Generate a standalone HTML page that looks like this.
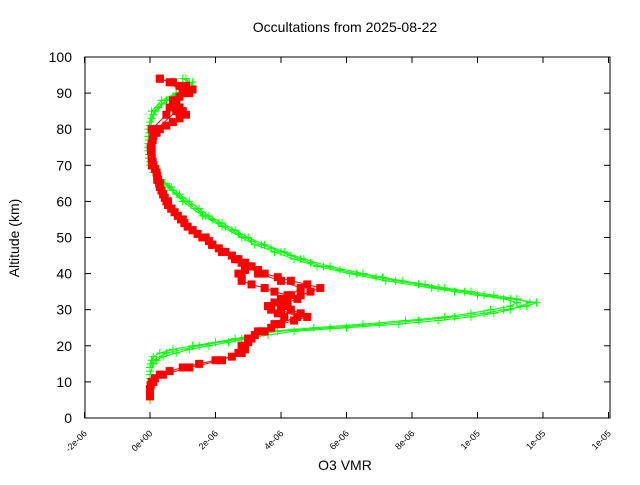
<!DOCTYPE html>
<html><head><meta charset="utf-8"><style>
body{margin:0;background:#fff;font-family:"Liberation Sans",sans-serif}
</style></head><body>
<svg id="c" width="640" height="480" xmlns="http://www.w3.org/2000/svg" font-family="Liberation Sans, sans-serif">
<rect width="640" height="480" fill="#fff"/>
<text x="345" y="32" text-anchor="middle" font-size="14">Occultations from 2025-08-22</text>
<text transform="translate(19,238) rotate(-90)" text-anchor="middle" font-size="14">Altitude (km)</text>
<text x="345" y="470" text-anchor="middle" font-size="14">O3 VMR</text>
<g id="axes"></g><g id="series"></g>
<rect x="85" y="57" width="525" height="361" fill="none" stroke="#000"/>
</svg>
<script>
const xTicks=[-2,0,2,4,6,8,10,12,14];
const xTickLabels=["-2e-06","0e+00","2e-06","4e-06","6e-06","8e-06","1e-05","1e-05","1e-05"];
const yTicks=[0,10,20,30,40,50,60,70,80,90,100];
const g1Alt=[5,6,7,8,9,10,11,12,13,14,15,16,17,18,19,20,21,22,23,24,25,26,27,28,29,30,31,32,33,34,35,36,37,38,39,40,41,42,43,44,45,46,47,48,49,50,51,52,53,54,55,56,57,58,59,60,61,62,63,64,65,66,67,68,69,70,71,72,73,74,75,76,77,78,79,80,81,82,83,84,85,86,87,88,89,90,91,92,93,94];
const g1Val=[0,0,0,0,0,0,0,0,0,0,0.02,0.05,0.1,0.3,0.7,1.3,2.0,2.6,3.2,3.9,5.5,7,8.2,9.3,10.2,10.8,11.5,11.8,11,10.2,9.6,8.8,8.2,7.5,6.9,6.3,5.8,5.3,4.9,4.6,4.3,4.0,3.7,3.4,3.1,2.9,2.7,2.5,2.3,2.1,1.9,1.7,1.55,1.4,1.25,1.1,0.95,0.8,0.7,0.6,0.45,0.3,0.2,0.1,0.05,0,0,-0.02,-0.03,-0.05,-0.05,-0.05,-0.04,-0.03,-0.02,0,0,0,0.05,0.1,0.15,0.25,0.35,0.5,0.7,0.9,1.1,1.2,1.2,1.0];
const g2Alt=[8,12,15,16,17,18,19,20,21,22,23,24,25,26,27,28,29,30,31,32,33,34,35,36,37,38,39,40,42,44,46,48,50,52,54,56,58,60,62,64,66,68,70,75,80,85,88,90,92,94];
const g2Val=[0,0,0.1,0.2,0.4,0.8,1.2,1.8,2.4,3.0,3.6,4.4,6,7.6,8.8,9.8,10.5,11,11.3,11.6,11.2,10.5,9.8,9.0,8.4,7.7,7.1,6.5,5.5,4.7,4.1,3.5,3.0,2.6,2.2,1.8,1.5,1.2,0.9,0.65,0.35,0.15,0.02,-0.05,-0.05,0.05,0.35,0.8,1.3,1.1];
const g3Alt=[10,14,16,18,20,22,24,25,26,27,28,29,30,31,32,33,34,35,36,38,40,42,44,46,48,50,53,56,60,64,68,72,78,84,88,91,93];
const g3Val=[0,0,0.1,0.5,1.5,2.8,3.6,5,6.5,7.8,9,9.8,10.4,11,11.2,10.8,10,9.3,8.6,7.2,6.1,5.1,4.4,3.8,3.2,2.8,2.2,1.6,1.0,0.55,0.1,-0.03,-0.05,0.1,0.5,1.0,1.3];
const r1Alt=[6,7,8,9,10,11,12,13,14,15,16,17,18,19,20,21,22,23,24,25,26,27,28,29,30,31,32,33,34,35,36,37,38,39,40,41,42,43,44,45,46,47,48,49,50,51,52,53,54,55,56,57,58,59,60,61,62,63,64,65,66,67,68,69,70,71,72,73,74,75,76,77,78,79,80,81,82,83,84,85,86,87,88,89,90,91,92,93,94];
const r1Val=[0,0,0,0.02,0.05,0.15,0.3,0.6,1,1.5,2,2.5,2.8,2.9,2.9,3,3,3.2,3.5,3.7,4,4.4,4.8,4.6,4.3,4.1,4.2,4.5,4.6,4.9,5.2,4.8,4.3,3.9,3.5,3.3,3.1,2.9,2.7,2.5,2.3,2.1,1.9,1.8,1.6,1.45,1.3,1.15,1.05,0.95,0.85,0.75,0.65,0.55,0.5,0.45,0.4,0.35,0.3,0.28,0.25,0.22,0.2,0.15,0.1,0.08,0.05,0.05,0.03,0.03,0.05,0.08,0.1,0.2,0.3,0.5,0.7,0.9,1.1,1.0,0.9,0.8,0.7,0.9,1.2,1.3,1.1,0.7,0.3];
const r2Alt=[18,20,22,24,26,28,29,30,31,32,33,34,35,36,37,38,39,40,41,42,43,44,46,48,50,52,55,58,62,66,70,75,80,84,86,88,90,92,94];
const r2Val=[2.7,2.8,3.1,3.4,3.8,4.1,3.9,3.7,3.6,3.9,4,4.2,3.8,3.5,3.1,2.8,2.8,2.7,2.9,3,2.8,2.6,2.2,1.9,1.6,1.3,0.95,0.65,0.4,0.22,0.06,0.02,0.05,0.5,0.6,0.8,1.1,0.9,0.3];
const r3Alt=[8,10,12,14,16,18,20,22,24,26,28,30,32,34,36,38,40,42,44,46,48,50,55,60,65,70,75,80,85,90,93];
const r3Val=[0,0.1,0.4,1.2,2.2,2.7,2.8,3.0,3.3,3.9,4.5,4.0,3.8,4.3,4.6,4.0,3.3,3.0,2.6,2.2,1.9,1.7,1.0,0.55,0.3,0.1,0.05,0.2,0.8,1.0,0.6];
const X=v=>150+(v)*32.75, Y=a=>418-a*3.61;
const NS="http://www.w3.org/2000/svg";
function mk(t,at,p){const e=document.createElementNS(NS,t);for(const k in at)e.setAttribute(k,at[k]);(p||document.getElementById('series')).appendChild(e);return e;}
const ax=document.getElementById('axes');
xTicks.forEach((t,i)=>{const x=X(t);
 const l=mk('line',{x1:x,x2:x,y1:418,y2:412,stroke:'#000'},ax);
 const l2=mk('line',{x1:x,x2:x,y1:57,y2:63,stroke:'#000'},ax);
 const tx=mk('text',{x:x+3,y:434,'font-size':9,'text-anchor':'end',transform:`rotate(-45 ${x+3} 434)`},ax);tx.textContent=xTickLabels[i];
 });
yTicks.forEach(t=>{const y=Y(t);
 const l=mk('line',{x1:85,x2:91,y1:y,y2:y,stroke:'#000'},ax);
 const l2=mk('line',{x1:604,x2:610,y1:y,y2:y,stroke:'#000'},ax);
 const tx=mk('text',{x:72,y:y+5,'font-size':14,'text-anchor':'end'},ax);tx.textContent=t;
 });
function series(alt,val,col,sq,name){
 const pts=alt.map((a,i)=>X(val[i]).toFixed(1)+','+Y(a).toFixed(1)).join(' ');
 const pl=mk('polyline',{points:pts,fill:'none',stroke:col,'stroke-width':1});
 
 alt.forEach((a,i)=>{const x=X(val[i]),y=Y(a);let m;
  if(sq){m=mk('rect',{x:x-4,y:y-4,width:8,height:8,fill:col});}
  else{m=mk('path',{d:`M${x-4},${y}H${x+4}M${x},${y-4}V${y+4}`,stroke:col,'stroke-width':1});}
  });
}
series(g1Alt,g1Val,'#00ff00',false,'green-profile-1');
series(g2Alt,g2Val,'#00ff00',false,'green-profile-2');
series(g3Alt,g3Val,'#00ff00',false,'green-profile-3');
series(r1Alt,r1Val,'#ff0000',true,'red-profile-1');
series(r2Alt,r2Val,'#ff0000',true,'red-profile-2');
series(r3Alt,r3Val,'#ff0000',true,'red-profile-3');
</script>
</body></html>
